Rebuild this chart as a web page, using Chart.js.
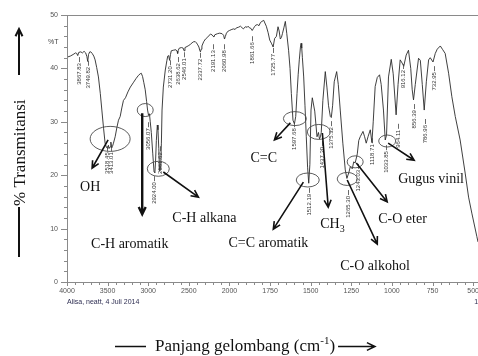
<!DOCTYPE html>
<html>
<head>
<meta charset="utf-8">
<script src="https://cdn.jsdelivr.net/npm/chart.js@4.4.0/dist/chart.umd.min.js"></script>
<style>
  html, body { margin: 0; padding: 0; background: #fff; overflow: hidden; }
  #wrap { position: relative; width: 478px; height: 356px; }
</style>
</head>
<body>
<div id="wrap"><canvas id="spektrum" width="478" height="356"></canvas></div>
<script>
// spectrum (wavenumber cm-1, %T)
const wavenumbers = [
  4000, 3960, 3925, 3895, 3880, 3868, 3855, 3830, 3810, 3790, 3770, 3755, 3745, 3735, 3720, 3707,
  3690, 3670, 3654, 3635, 3613, 3590, 3571, 3550, 3531, 3515, 3500, 3490, 3482, 3470, 3460, 3450,
  3440, 3428, 3407, 3385, 3366, 3345, 3325, 3305, 3280, 3250, 3220, 3185, 3150, 3120, 3098, 3086,
  3070, 3055, 3037, 3020, 3008, 2996, 2985, 2975, 2962, 2944, 2928, 2918, 2910, 2900, 2888, 2880,
  2870, 2860, 2848, 2838, 2830, 2814, 2790, 2770, 2760, 2748, 2737, 2726, 2716, 2691, 2660, 2645,
  2638, 2630, 2617, 2590, 2570, 2559, 2548, 2522, 2500, 2481, 2460, 2440, 2420, 2407, 2390, 2376,
  2364, 2357, 2348, 2339, 2317, 2295, 2271, 2250, 2234, 2215, 2200, 2192, 2180, 2148, 2120, 2090,
  2072, 2061, 2050, 2037, 2015, 2000,
  1985, 1975, 1965, 1957, 1945, 1932, 1922, 1914, 1902, 1891, 1885, 1877, 1868, 1860, 1852, 1846,
  1838, 1828, 1818, 1809, 1800, 1789, 1782, 1773, 1762, 1752, 1740, 1731, 1722, 1711, 1701, 1694,
  1687, 1680, 1674, 1665, 1656, 1647, 1636, 1627, 1619, 1609, 1600, 1592, 1584, 1577, 1570, 1563,
  1559, 1555, 1551, 1543, 1535, 1527, 1519, 1512, 1505, 1498, 1490, 1475, 1461, 1452, 1446, 1440,
  1435, 1425, 1410, 1400, 1390, 1379, 1373, 1365, 1355, 1340, 1330, 1318, 1302, 1287, 1277, 1265,
  1256, 1244, 1235, 1226, 1213, 1204, 1195, 1178, 1168, 1158, 1146, 1133, 1123, 1115, 1103, 1090,
  1076, 1066, 1052, 1041, 1033, 1021, 1004, 992, 974, 962, 949, 937, 927, 912, 898, 884,
  875, 867, 856, 836, 825, 813, 801, 788, 774, 764, 747, 733, 721, 702, 687, 672,
  651, 631, 610, 580, 549, 528, 508, 477, 470
];
const transmittance = [
  42.1, 42.3, 42.6, 42.9, 42.8, 42.4, 43.0, 43.1, 42.9, 43.2, 42.9, 42.2, 41.3, 42.6, 43.1, 43.1,
  42.8, 42.3, 41.6, 40.2, 38.4, 35.3, 32.2, 28.8, 26.0, 25.2, 25.0, 25.6, 25.0, 25.3, 26.2, 25.1,
  25.4, 26.0, 27.2, 29.0, 30.3, 31.0, 32.6, 34.0, 34.5, 35.6, 36.5, 37.3, 38.1, 38.7, 39.0, 39.1,
  38.5, 37.4, 36.0, 33.8, 32.2, 31.2, 31.5, 30.0, 28.0, 24.0, 20.6, 20.5, 22.5, 26.5, 29.4, 28.5,
  25.0, 20.8, 21.0, 26.0, 32.2, 36.5, 39.7, 41.5, 42.3, 42.4, 41.5, 42.6, 43.3, 43.4, 43.5, 43.2,
  42.8, 43.4, 43.8, 43.9, 43.8, 43.3, 43.9, 44.1, 44.3, 44.5, 44.8, 45.0, 45.0, 44.8, 44.4, 44.0,
  43.3, 43.1, 43.6, 44.2, 45.0, 45.5, 45.8, 46.2, 46.4, 46.3, 46.0, 45.9, 46.3, 46.5, 46.6, 46.5,
  46.2, 45.5, 46.0, 46.6, 47.0, 47.1,
  47.3, 47.4, 47.3, 47.6, 47.7, 47.9, 47.6, 47.4, 47.8, 47.7, 47.9, 47.6, 47.5, 47.1, 47.5, 47.8,
  48.1, 48.2, 48.0, 48.6, 48.8, 49.0, 48.5, 47.9, 46.7, 45.3, 44.6, 44.0, 45.6, 46.0, 47.8, 47.0,
  45.5, 45.8, 46.5, 47.6, 48.8, 46.5, 43.4, 40.0, 35.3, 30.3, 29.6, 31.0, 35.3, 38.8, 41.6, 44.0,
  44.7, 43.8, 42.0, 38.4, 33.0, 27.2, 21.5, 18.5, 22.0, 32.2, 34.5, 32.0, 27.2, 28.0, 26.8, 27.2,
  28.0, 34.0, 39.4, 36.5, 33.0, 31.0, 30.8, 33.0, 37.5, 39.4, 37.0, 32.2, 26.0, 21.0, 19.4, 20.5,
  21.6, 21.2, 22.5, 22.3, 24.0, 26.5, 27.2, 28.2, 27.2, 26.0, 27.3, 28.5, 26.1, 30.0, 36.6, 38.3,
  38.8, 37.0, 32.2, 26.6, 27.5, 38.4, 41.7, 39.0, 31.3, 37.0, 41.6, 41.0, 40.4, 42.5, 43.4, 40.0,
  36.0, 34.1, 37.0, 41.9, 41.5, 37.0, 32.2, 37.5, 41.6, 42.0, 41.2, 42.8, 43.6, 44.2, 43.5, 42.8,
  39.1, 34.7, 31.0, 26.6, 20.4, 15.9, 12.9, 8.5, 7.5
];

// axis ticks
const xMajorTicks = [4000, 3500, 3000, 2500, 2000, 1750, 1500, 1250, 1000, 750, 500];
const yMajorTicks = [0, 10, 20, 30, 40, 50];

// peak labels printed by the instrument
const peakTexts = ['3867.83', '3749.82', '3518.45', '3413.01', '3056.07', '2924.00', '2861.62',
  '2731.20', '2638.62', '2546.01', '2337.72', '2191.13', '2060.98', '1861.66', '1725.77',
  '1597.68', '1512.19', '1437.30', '1375.32', '1265.30', '1243.03', '1118.71', '1033.85',
  '964.11', '916.12', '856.39', '786.96', '732.95'];
const peakAt = [3852, 3744, 3502, 3457, 3008, 2926, 2852, 2737, 2638, 2559, 2357, 2197, 2061,
  1860, 1731, 1600, 1512, 1432, 1376, 1272, 1211, 1121, 1035, 965, 933, 866, 796, 741];
// %T level where each printed label starts (layout)
const peakTextTop = [41.0, 40.3, 24.3, 24.3, 28.8, 18.7, 24.3, 40.4, 41.0, 41.9, 41.8, 43.4, 43.4,
  44.9, 42.7, 28.8, 16.5, 25.3, 29.0, 16.1, 21.0, 25.8, 24.5, 28.5, 39.7, 32.2, 29.4, 39.3];

// group annotations, positions in (cm-1, %T)
const gugus = [
  { text: 'OH', ell: [3469, 26.8, 20, 12.5], from: [3494, 26.6], to: [3691, 21.3], at: [3839, 17.0] },
  { text: 'C-H aromatik', ell: [3037, 32.2, 8, 6.5], from: [3074, 31.6], to: [3074, 12.7], at: [3704, 6.4], thick: true },
  { text: 'C-H alkana', ell: [2876, 21.2, 11, 7.5], from: [2814, 20.6], to: [2382, 15.9], at: [2703, 11.2] },
  { text: 'C=C', ell: [1597, 30.6, 11.5, 7], from: [1625, 29.8], to: [1723, 26.6], at: [1871, 22.5] },
  { text: 'C=C aromatik', ell: [1518, 19.1, 11.5, 7], from: [1545, 18.7], to: [1730, 9.9], at: [2012, 6.55] },
  { text: 'CH', sub: '3', ell: [1450, 28.1, 11.5, 7.5], from: [1428, 27.9], to: [1392, 14.0], at: [1441, 10.1] },
  { text: 'C-O alkohol', ell: [1275, 19.3, 10, 6.5], from: [1275, 19.1], to: [1090, 7.1], at: [1318, 2.25] },
  { text: 'C-O eter', ell: [1226, 22.5, 8, 6], from: [1219, 22.3], to: [1029, 15.0], at: [1084, 11.0] },
  { text: 'Gugus vinil', ell: [1029, 26.4, 8.5, 6], from: [1023, 26.0], to: [863, 22.8], at: [961, 18.5] }
];

// wavenumber axis with the usual 2x expansion below 2000 cm-1
const BREAK_WN = 2000;
const EXPAND = 2;
class WavenumberScale extends Chart.LinearScale {
  units(v) {
    return v >= BREAK_WN ? this.max - v : (this.max - BREAK_WN) + EXPAND * (BREAK_WN - v);
  }
  getPixelForValue(value) {
    const total = this.units(this.min);
    return this.left + (this.right - this.left) * this.units(value) / total;
  }
  getValueForPixel(pixel) {
    const total = this.units(this.min);
    const u = (pixel - this.left) / (this.right - this.left) * total;
    const upper = this.max - BREAK_WN;
    return u <= upper ? this.max - u : BREAK_WN - (u - upper) / EXPAND;
  }
}
WavenumberScale.id = 'wavenumber';
WavenumberScale.defaults = Chart.LinearScale.defaults;
Chart.register(WavenumberScale);

function xTickValues() {
  const vals = [];
  for (let v = 4000; v > 2000; v -= 100) vals.push(v);
  for (let v = 2000; v >= 500; v -= 50) vals.push(v);
  return vals;
}

function drawArrow(ctx, x1, y1, x2, y2, head) {
  const ang = Math.atan2(y2 - y1, x2 - x1);
  ctx.beginPath();
  ctx.moveTo(x1, y1);
  ctx.lineTo(x2, y2);
  ctx.moveTo(x2 - head * Math.cos(ang - 0.45), y2 - head * Math.sin(ang - 0.45));
  ctx.lineTo(x2, y2);
  ctx.lineTo(x2 - head * Math.cos(ang + 0.45), y2 - head * Math.sin(ang + 0.45));
  ctx.stroke();
}

const decorPlugin = {
  id: 'decor',
  afterDraw(chart) {
    const ctx = chart.ctx;
    const xs = chart.scales.x;
    const ys = chart.scales.y;
    const area = chart.chartArea;
    const px = (wn) => xs.getPixelForValue(wn);
    const py = (t) => ys.getPixelForValue(t);

    ctx.save();
    // frame and axes
    ctx.strokeStyle = '#8a8a8a';
    ctx.lineWidth = 1;
    ctx.beginPath();
    ctx.moveTo(area.left + 0.5, area.top + 0.5);
    ctx.lineTo(area.right, area.top + 0.5);
    ctx.moveTo(area.left + 0.5, area.top);
    ctx.lineTo(area.left + 0.5, area.bottom + 0.5);
    ctx.lineTo(area.right, area.bottom + 0.5);
    ctx.stroke();

    // tick marks
    ctx.beginPath();
    ys.ticks.forEach((t) => {
      const y = Math.round(py(t.value)) + 0.5;
      const len = yMajorTicks.includes(t.value) ? 6 : 3;
      ctx.moveTo(area.left - len, y);
      ctx.lineTo(area.left, y);
    });
    xs.ticks.forEach((t) => {
      const x = Math.round(px(t.value)) + 0.5;
      const len = xMajorTicks.includes(t.value) ? 4 : 3;
      ctx.moveTo(x, area.bottom);
      ctx.lineTo(x, area.bottom + len);
    });
    ctx.stroke();

    // small texts of the instrument
    ctx.fillStyle = '#444';
    ctx.font = '7px Arial';
    ctx.textBaseline = 'middle';
    ctx.textAlign = 'left';
    ctx.fillText('%T', 48, area.top + 27);
    ctx.fillStyle = '#2e2e52';
    ctx.fillText('Alisa, neatt, 4 Juli 2014', area.left, area.bottom + 20);
    ctx.fillText('1/1', px(500) + 1, area.bottom + 20);

    // peak labels
    ctx.strokeStyle = '#444';
    ctx.fillStyle = '#333';
    ctx.lineWidth = 0.8;
    ctx.font = '6px Arial';
    peakTexts.forEach((txt, i) => {
      const x = Math.round(px(peakAt[i])) + 0.5;
      const y = py(peakTextTop[i]);
      ctx.beginPath();
      ctx.moveTo(x, y - 6);
      ctx.lineTo(x, y - 1);
      ctx.stroke();
      ctx.save();
      ctx.translate(x, y);
      ctx.rotate(-Math.PI / 2);
      ctx.textAlign = 'right';
      ctx.textBaseline = 'middle';
      ctx.fillText(txt, 0, 0);
      ctx.restore();
    });

    // functional group annotations
    gugus.forEach((g) => {
      ctx.strokeStyle = '#4a4a4a';
      ctx.lineWidth = 0.9;
      ctx.beginPath();
      ctx.ellipse(px(g.ell[0]), py(g.ell[1]), g.ell[2], g.ell[3], 0, 0, Math.PI * 2);
      ctx.stroke();
      ctx.strokeStyle = '#111';
      ctx.lineWidth = g.thick ? 2.4 : 1.6;
      drawArrow(ctx, px(g.from[0]), py(g.from[1]), px(g.to[0]), py(g.to[1]), 8);
      ctx.fillStyle = '#111';
      ctx.font = '14px "Liberation Serif", "Times New Roman", serif';
      ctx.textAlign = 'left';
      ctx.textBaseline = 'alphabetic';
      const tx = px(g.at[0]);
      const ty = py(g.at[1]);
      ctx.fillText(g.text, tx, ty);
      if (g.sub) {
        const w = ctx.measureText(g.text).width;
        ctx.font = '10px "Liberation Serif", serif';
        ctx.fillText(g.sub, tx + w, ty + 4);
      }
    });

    // y title: arrow up, then rotated text
    ctx.strokeStyle = '#111';
    ctx.fillStyle = '#111';
    ctx.lineWidth = 2;
    drawArrow(ctx, 19, 75, 19, 29, 8);
    ctx.beginPath();
    ctx.moveTo(19, 257);
    ctx.lineTo(19, 207);
    ctx.stroke();
    ctx.save();
    ctx.translate(25, 206);
    ctx.rotate(-Math.PI / 2);
    ctx.font = '17px "Liberation Serif", serif';
    ctx.textAlign = 'left';
    ctx.textBaseline = 'alphabetic';
    ctx.fillText('% Transmitansi', 0, 0);
    ctx.restore();

    // x title
    ctx.lineWidth = 1.5;
    ctx.beginPath();
    ctx.moveTo(115, 346.5);
    ctx.lineTo(146, 346.5);
    ctx.stroke();
    ctx.font = '17px "Liberation Serif", serif';
    ctx.textAlign = 'left';
    ctx.textBaseline = 'alphabetic';
    const part1 = 'Panjang gelombang (cm';
    ctx.fillText(part1, 155, 351);
    let w = ctx.measureText(part1).width;
    ctx.font = '11px "Liberation Serif", serif';
    ctx.fillText('-1', 155 + w, 344);
    w += ctx.measureText('-1').width;
    ctx.font = '17px "Liberation Serif", serif';
    ctx.fillText(')', 155 + w, 351);
    w += ctx.measureText(')').width;
    drawArrow(ctx, 155 + w + 3, 346.5, 375, 346.5, 9);
    ctx.restore();
  }
};

const ctx = document.getElementById('spektrum').getContext('2d');
new Chart(ctx, {
  type: 'line',
  data: {
    datasets: [{
      data: wavenumbers.map((wn, i) => ({ x: wn, y: transmittance[i] })),
      borderColor: '#2a2a2a',
      borderWidth: 0.9,
      pointRadius: 0,
      tension: 0,
      fill: false
    }]
  },
  options: {
    responsive: false,
    animation: false,
    layout: { padding: { top: 15, left: 0, right: 0, bottom: 0 } },
    plugins: { legend: { display: false }, tooltip: { enabled: false } },
    scales: {
      x: {
        type: 'wavenumber',
        min: 470,
        max: 4000,
        grid: { display: false, drawTicks: false },
        border: { display: false },
        afterBuildTicks: (axis) => { axis.ticks = xTickValues().map((v) => ({ value: v })); },
        afterFit: (axis) => { axis.height = 74; axis.paddingLeft = 0; axis.paddingRight = 0; },
        ticks: {
          autoSkip: false,
          maxRotation: 0,
          padding: 5,
          color: '#555',
          font: { family: 'Arial', size: 7 },
          callback: (v) => (xMajorTicks.includes(v) ? String(v) : '')
        }
      },
      y: {
        min: 0,
        max: 50,
        grid: { display: false, drawTicks: false },
        border: { display: false },
        afterBuildTicks: (axis) => {
          const vals = [];
          for (let v = 0; v <= 50; v += 2) vals.push({ value: v });
          axis.ticks = vals;
        },
        afterFit: (axis) => { axis.width = 67; },
        ticks: {
          autoSkip: false,
          padding: 9,
          color: '#555',
          font: { family: 'Arial', size: 7 },
          callback: (v) => (yMajorTicks.includes(v) ? String(v) : '')
        }
      }
    }
  },
  plugins: [decorPlugin]
});
</script>
</body>
</html>
